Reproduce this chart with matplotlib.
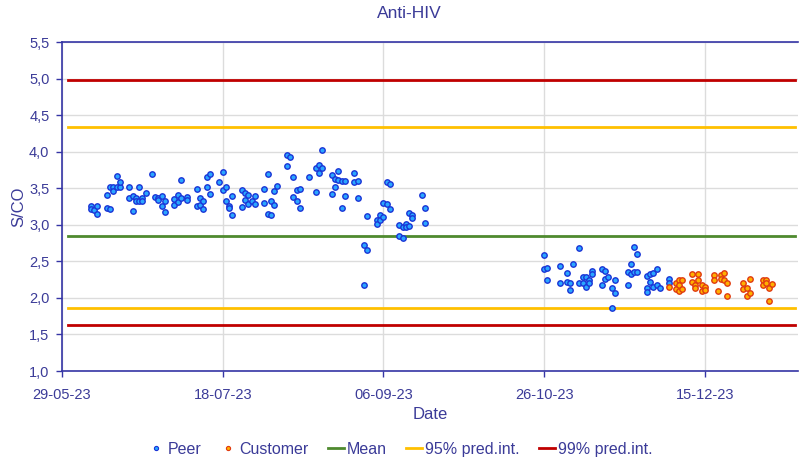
import datetime as dt
import matplotlib
matplotlib.use("Agg")
import matplotlib.pyplot as plt
import matplotlib.dates as mdates
from matplotlib.ticker import FuncFormatter, MultipleLocator
from matplotlib.lines import Line2D

START = dt.date(2023, 5, 29)

# days after START, S/CO value
peer_day = [9, 9, 10, 11, 11, 14, 14, 15, 15, 16, 16, 17, 17, 18, 18,
            21, 21, 22, 22, 23, 23, 24, 24, 25, 25, 26, 28, 29, 30, 30,
            31, 31, 32, 32, 35, 35, 36, 36, 37, 37, 39, 39, 42, 42, 43, 43,
            44, 44, 45, 45, 46, 46, 49, 50, 50, 51, 51, 52, 52, 53, 53,
            56, 56, 57, 57, 58, 58, 59, 60, 60, 63, 63, 64, 64, 65, 65, 66, 66, 67,
            70, 70, 71, 72, 72, 73, 73, 74, 74, 77, 79, 79, 80, 80, 81, 81,
            84, 84, 85, 85, 86, 86, 87, 87, 88, 88, 91, 91, 92, 92,
            94, 94, 95, 95, 98, 98, 99, 99, 100, 100, 101, 101, 102, 102,
            105, 105, 106, 106, 107, 107, 108, 108, 109, 109, 112, 113, 113,
            150, 150, 151, 151, 155, 155, 157, 157, 158, 158, 159, 161, 161,
            162, 162, 163, 163, 164, 164, 165, 165, 168, 168, 169, 169, 170,
            171, 171, 172, 172, 176, 176, 177, 177, 178, 178, 179, 179,
            182, 182, 182, 183, 183, 184, 184, 185, 185, 186, 189, 189]
peer_value = [3.25, 3.22, 3.20, 3.26, 3.15, 3.23, 3.41, 3.21, 3.52, 3.52, 3.46, 3.52, 3.67, 3.51, 3.58,
              3.51, 3.37, 3.39, 3.19, 3.37, 3.33, 3.33, 3.52, 3.37, 3.33, 3.43, 3.69, 3.38, 3.37, 3.34,
              3.39, 3.26, 3.33, 3.18, 3.35, 3.27, 3.41, 3.31, 3.36, 3.61, 3.38, 3.34, 3.49, 3.26, 3.37, 3.27,
              3.33, 3.21, 3.66, 3.52, 3.70, 3.42, 3.59, 3.72, 3.47, 3.51, 3.32, 3.26, 3.23, 3.40, 3.14,
              3.47, 3.24, 3.44, 3.34, 3.41, 3.29, 3.32, 3.39, 3.28, 3.49, 3.30, 3.69, 3.15, 3.32, 3.13, 3.46, 3.27, 3.53,
              3.95, 3.80, 3.93, 3.65, 3.38, 3.48, 3.33, 3.49, 3.23, 3.66, 3.77, 3.45, 3.82, 3.71, 3.78, 4.02,
              3.68, 3.42, 3.63, 3.52, 3.61, 3.74, 3.60, 3.23, 3.60, 3.39, 3.71, 3.58, 3.60, 3.36,
              2.72, 2.18, 2.65, 3.12, 3.07, 3.01, 3.13, 3.07, 3.11, 3.30, 3.29, 3.58, 3.22, 3.56,
              3.00, 2.84, 2.97, 2.82, 3.01, 2.97, 2.98, 3.16, 3.13, 3.09, 3.41, 3.23, 3.03,
              2.58, 2.40, 2.41, 2.25, 2.44, 2.20, 2.34, 2.22, 2.20, 2.11, 2.46, 2.68, 2.20,
              2.28, 2.20, 2.28, 2.15, 2.25, 2.20, 2.37, 2.32, 2.40, 2.17, 2.37, 2.26, 2.28,
              2.13, 1.86, 2.07, 2.25, 2.35, 2.17, 2.47, 2.32, 2.69, 2.35, 2.60, 2.35,
              2.30, 2.14, 2.08, 2.32, 2.22, 2.34, 2.15, 2.39, 2.17, 2.14, 2.26, 2.21]

customer_day = [189, 191, 191, 192, 192, 192, 193, 193, 196, 196, 197, 197, 198, 198,
                199, 199, 200, 200, 203, 203, 204, 205, 205, 206, 206, 207, 207,
                212, 212, 213, 213, 214, 214, 218, 218, 219, 219, 220, 220, 221]
customer_value = [2.15, 2.21, 2.12, 2.25, 2.10, 2.18, 2.24, 2.12, 2.32, 2.22, 2.17, 2.13, 2.32, 2.25,
                  2.17, 2.10, 2.15, 2.11, 2.31, 2.25, 2.10, 2.31, 2.26, 2.34, 2.25, 2.20, 2.03,
                  2.21, 2.12, 2.14, 2.02, 2.26, 2.07, 2.24, 2.17, 2.24, 2.21, 2.14, 1.96, 2.19]

MEAN = 2.847
PI95 = (1.86, 4.344)
PI99 = (1.627, 4.974)
LINE_SPAN = (2, 228)   # days
X_RANGE = (0, 229)
X_TICK_STEP = 50

TXT = "#3b3b98"
SPINE = "#3535a5"
GRID = "#dcdcdc"

plt.rcParams["font.family"] = ["Liberation Sans", "DejaVu Sans"]


def to_dates(days):
    return [START + dt.timedelta(days=d) for d in days]


fig = plt.figure(figsize=(8.01, 4.61), dpi=100)
ax = fig.add_axes([62 / 801, 1 - 371 / 461, 736 / 801, 329 / 461])

line_x = to_dates(LINE_SPAN)
ax.plot(line_x, [PI99[0]] * 2, color="#c00000", lw=2, zorder=2)
ax.plot(line_x, [PI99[1]] * 2, color="#c00000", lw=2, zorder=2)
ax.plot(line_x, [PI95[0]] * 2, color="#ffc000", lw=2, zorder=2)
ax.plot(line_x, [PI95[1]] * 2, color="#ffc000", lw=2, zorder=2)
ax.plot(line_x, [MEAN] * 2, color="#4e8a2e", lw=2, zorder=2)

ax.plot(to_dates(peer_day), peer_value, ls="none", marker="o", ms=3.9,
        mfc="#2aa6ff", mec="#1a34d6", mew=1.0, zorder=3)
ax.plot(to_dates(customer_day), customer_value, ls="none", marker="o", ms=3.9,
        mfc="#ffb000", mec="#e03a10", mew=1.0, zorder=4)

ax.set_xlim(to_dates(X_RANGE))
ax.set_ylim(1.0, 5.5)
ticks = to_dates(range(X_RANGE[0], X_RANGE[1], X_TICK_STEP))
ax.set_xticks(ticks)
ax.xaxis.set_major_formatter(mdates.DateFormatter("%d-%m-%y"))
ax.yaxis.set_major_locator(MultipleLocator(0.5))
ax.yaxis.set_major_formatter(FuncFormatter(lambda v, p: f"{v:.1f}".replace(".", ",")))

ax.grid(True, color=GRID, lw=1)
ax.set_axisbelow(True)
for side in ["left", "bottom", "top"]:
    ax.spines[side].set_color(SPINE)
    ax.spines[side].set_linewidth(1.2)
ax.spines["right"].set_visible(False)
ax.tick_params(colors=SPINE, labelcolor=TXT, labelsize=10.5, length=4, width=1)
ax.tick_params(axis="x", pad=8)
ax.tick_params(axis="y", pad=5)

ax.set_xlabel("Date", color=TXT, fontsize=12)
ax.xaxis.set_label_coords(0.5, -0.108)
ax.set_ylabel("S/CO", color=TXT, fontsize=12)
ax.yaxis.set_label_coords(-0.049, 0.5)
fig.text(409 / 801, 1 - 14 / 461, "Anti-HIV", color=TXT, fontsize=12.5,
         ha="center", va="center")

handles = [
    Line2D([], [], ls="none", marker="o", ms=3, mfc="#2aa6ff", mec="#1a34d6", mew=0.8),
    Line2D([], [], ls="none", marker="o", ms=3, mfc="#ffb000", mec="#e03a10", mew=0.8),
    Line2D([], [], color="#4e8a2e", lw=2),
    Line2D([], [], color="#ffc000", lw=2),
    Line2D([], [], color="#c00000", lw=2),
]
labels = ["Peer", "Customer", "Mean", "95% pred.int.", "99% pred.int."]
leg = fig.legend(handles, labels, loc="center", bbox_to_anchor=(0.5, 1 - 449 / 461),
                 ncol=5, frameon=False, fontsize=11.5, handlelength=1.0,
                 handletextpad=0.2, columnspacing=1.2)
for t in leg.get_texts():
    t.set_color(TXT)

fig.savefig("out.png", dpi=100)
